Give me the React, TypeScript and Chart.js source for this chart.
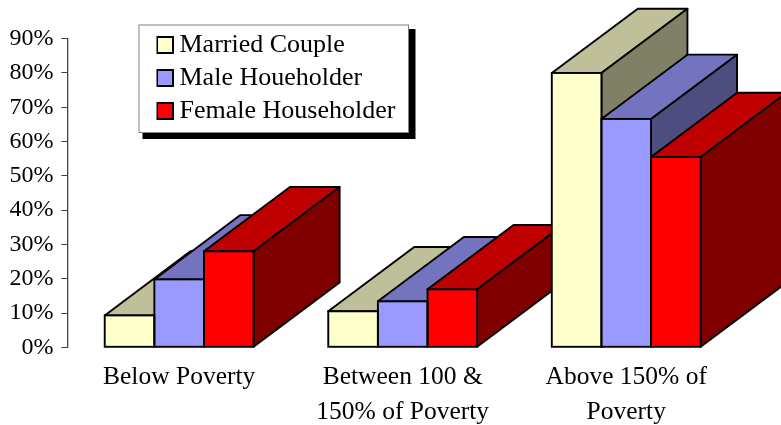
import React, { useEffect, useRef } from "react";
import { Chart, registerables } from "chart.js";

Chart.register(...registerables);

const categories = [["Below Poverty"], ["Between 100 &", "150% of Poverty"], ["Above 150% of", "Poverty"]];
const seriesNames = ["Married Couple", "Male Houeholder", "Female Householder"];
const marriedCouple = [9.3, 10.5, 80];
const maleHouseholder = [19.8, 13.4, 66.6];
const femaleHouseholder = [28, 16.9, 55.5];
const frontColors = ["#FFFFCC", "#9999FF", "#FF0000"];
const topColors = ["#BFBF99", "#7373BF", "#BF0000"];
const sideColors = ["#808066", "#4D4D80", "#800000"];

const FONT = "'Liberation Serif'";
const DEPTH_X = 86;
const DEPTH_Y = 64.3;
const EDGE = 1.9;

function makeSwatch(color: string) {
  const c = document.createElement("canvas");
  c.width = 18;
  c.height = 18;
  const g = c.getContext("2d")!;
  g.fillStyle = color;
  g.fillRect(1, 1, 16, 16);
  g.strokeStyle = "#000";
  g.lineWidth = 2;
  g.strokeRect(1, 1, 16, 16);
  return c;
}

const poly = (ctx: CanvasRenderingContext2D, pts: number[][], fill: string) => {
  ctx.beginPath();
  pts.forEach((p, i) => (i ? ctx.lineTo(p[0], p[1]) : ctx.moveTo(p[0], p[1])));
  ctx.closePath();
  ctx.fillStyle = fill;
  ctx.fill();
  ctx.stroke();
};

const extrudePlugin = {
  id: "extrude",
  beforeDraw(chart: any) {
    const { ctx } = chart;
    ctx.save();
    ctx.fillStyle = "#000";
    ctx.fillRect(142.5, 29, 273, 110);
    ctx.fillStyle = "#fff";
    ctx.fillRect(139, 25, 269.5, 107.5);
    ctx.strokeStyle = "#808080";
    ctx.lineWidth = 1;
    ctx.strokeRect(139, 25, 269.5, 107.5);
    ctx.restore();
  },
  beforeDatasetsDraw(chart: any) {
    const { ctx } = chart;
    ctx.save();
    ctx.strokeStyle = "#000";
    ctx.lineWidth = EDGE;
    ctx.lineJoin = "round";
    categories.forEach((_, j) => {
      chart.data.datasets.forEach((_d: any, i: number) => {
        const b = chart.getDatasetMeta(i).data[j];
        const l = b.x - b.width / 2;
        const r = b.x + b.width / 2;
        poly(ctx, [[l, b.y], [l + DEPTH_X, b.y - DEPTH_Y], [r + DEPTH_X, b.y - DEPTH_Y], [r, b.y]], topColors[i]);
        poly(ctx, [[r, b.y], [r + DEPTH_X, b.y - DEPTH_Y], [r + DEPTH_X, b.base - DEPTH_Y], [r, b.base]], sideColors[i]);
      });
    });
    ctx.restore();
  },
  afterDatasetsDraw(chart: any) {
    const { ctx } = chart;
    ctx.save();
    ctx.strokeStyle = "#000";
    ctx.lineWidth = EDGE;
    categories.forEach((_, j) => {
      chart.data.datasets.forEach((_d: any, i: number) => {
        const b = chart.getDatasetMeta(i).data[j];
        ctx.strokeRect(b.x - b.width / 2, b.y, b.width, b.base - b.y);
      });
    });
    ctx.restore();
  },
  afterLayout(chart: any) {
    const lg = chart.legend;
    lg.left = 156.5;
    lg.right = 405;
    lg.top = 25;
    lg.bottom = 170;
  },
};

export default function App() {
  const ref = useRef<HTMLCanvasElement>(null);
  useEffect(() => {
    const values = [marriedCouple, maleHouseholder, femaleHouseholder];
    const swatches = frontColors.map(makeSwatch);
    const chart = new Chart(ref.current!, {
      type: "bar",
      data: {
        labels: categories,
        datasets: seriesNames.map((name, i) => ({
          label: name,
          data: values[i],
          backgroundColor: frontColors[i],
          borderWidth: 0,
          barPercentage: 1,
          categoryPercentage: 0.666,
        })),
      },
      options: {
        responsive: false,
        animation: false,
        events: [],
        layout: { autoPadding: false, padding: { left: 0, right: 43, top: 38.7, bottom: 0 } },
        plugins: {
          title: { display: false },
          tooltip: { enabled: false },
          legend: {
            position: "chartArea",
            align: "start",
            labels: {
              font: { family: FONT, size: 26 },
              color: "#000",
              padding: 7,
              usePointStyle: true,
              pointStyleWidth: 3,
              generateLabels: (c: any) =>
                Chart.defaults.plugins.legend.labels
                  .generateLabels(c)
                  .map((it: any) => ({ ...it, pointStyle: swatches[it.datasetIndex] })),
            },
          },
        },
        scales: {
          x: {
            grid: { display: false },
            border: { display: false },
            afterFit: (s: any) => { s.height = 77.7; },
            ticks: {
              color: "#000",
              font: { family: FONT, size: 25.5, lineHeight: 1.38 },
              padding: 4,
              maxRotation: 0,
              autoSkip: false,
            },
          },
          y: {
            min: 0,
            max: 90,
            afterFit: (s: any) => { s.width = 67.4; },
            grid: { drawOnChartArea: false, drawTicks: true, tickLength: 6, color: "#444", lineWidth: 1 },
            border: { display: true, color: "#444", width: 1.3 },
            ticks: {
              stepSize: 10,
              color: "#000",
              font: { family: FONT, size: 24 },
              padding: 8,
              callback: (v: any) => v + "%",
            },
          },
        },
      } as any,
      plugins: [extrudePlugin],
    });
    return () => chart.destroy();
  }, []);
  return (
    <div style={{ position: "fixed", left: 0, top: 0, width: 781, height: 425, background: "#fff" }}>
      <canvas ref={ref} width={781} height={425} style={{ display: "block" }} />
    </div>
  );
}
